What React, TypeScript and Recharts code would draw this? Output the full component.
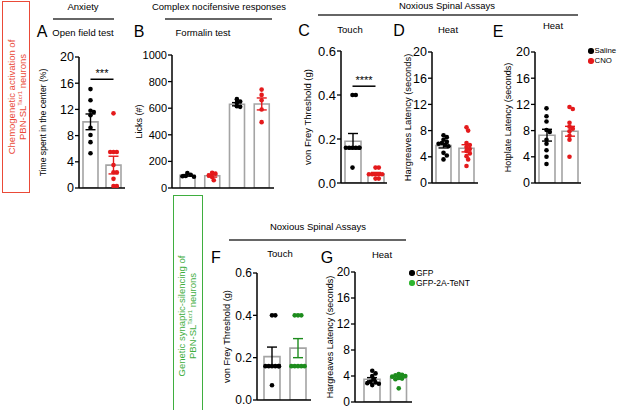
import React from 'react';
import { ComposedChart, Bar, Scatter, XAxis, YAxis, ErrorBar, ReferenceLine } from 'recharts';

// ---------- data ----------
const salineCnoGroups = ['Saline', 'CNO'];
const formalinGroups = ['Saline (phase 1)', 'CNO (phase 1)', 'Saline (phase 2)', 'CNO (phase 2)'];
const gfpGroups = ['GFP', 'GFP-2A-TeNT'];

const anxietySaline = [15.1, 13.4, 11.8, 11.6, 11.1, 9.2, 8.1, 7.0, 5.3];
const anxietyCNO = [11.4, 5.5, 5.5, 5.5, 3.5, 2.4, 2.4, 1.4, 0.3, 0.3];
const anxietyMeans = [10.1, 3.5];
const anxietySem = [1.2, 1.35];

const formalinSaline1 = [112, 100, 90, 85, 88];
const formalinCNO1 = [115, 108, 95, 82, 58];
const formalinSaline2 = [668, 650, 640, 615, 610];
const formalinCNO2 = [740, 700, 660, 590, 495];
const formalinMeans = [95, 92, 630, 632];
const formalinSem = [6, 10, 12, 45];

const touchSaline = [0.4, 0.4, 0.16, 0.16, 0.16, 0.16, 0.16, 0.16, 0.07];
const touchCNO = [0.07, 0.07, 0.04, 0.04, 0.04, 0.04, 0.04, 0.02, 0.02];
const touchMeans = [0.19, 0.042];
const touchSem = [0.035, 0.006];

const hargSaline = [7.3, 7.0, 6.6, 6.3, 6.1, 6.0, 5.8, 5.6, 4.6, 4.2, 3.6];
const hargCNO = [8.5, 8.0, 6.1, 5.8, 5.5, 5.2, 4.9, 4.5, 4.1, 3.6, 2.6];
const hargMeans = [5.7, 5.3];
const hargSem = [0.35, 0.55];

const hotSaline = [11.4, 10.2, 9.4, 8.1, 7.8, 6.6, 6.0, 5.0, 4.0, 2.9];
const hotCNO = [11.6, 11.3, 9.2, 8.6, 8.3, 7.9, 7.2, 6.6, 4.0];
const hotMeans = [7.3, 7.9];
const hotSem = [0.9, 0.75];

const silTouchGFP = [0.4, 0.4, 0.16, 0.16, 0.16, 0.16, 0.16, 0.16, 0.07];
const silTouchTeNT = [0.4, 0.4, 0.4, 0.16, 0.16, 0.16, 0.16, 0.16];
const silTouchMeans = [0.205, 0.245];
const silTouchSem = [0.045, 0.045];

const silHeatGFP = [4.8, 4.4, 4.0, 3.5, 3.1, 3.0, 2.9, 2.8, 2.6];
const silHeatTeNT = [4.3, 4.2, 4.1, 4.0, 3.9, 3.7, 3.6, 3.5, 2.1];
const silHeatMeans = [3.5, 3.7];
const silHeatSem = [0.25, 0.2];

const ticks20 = [0, 4, 8, 12, 16, 20];
const ticks1000 = [0, 200, 400, 600, 800, 1000];
const ticks06 = [0, 0.2, 0.4, 0.6];

// ---------- style ----------
const FONT = '"Liberation Sans", Arial, Helvetica, sans-serif';
const BLACK = '#000000';
const RED = '#e41a1c';
const GREEN = '#1d8c1d';
const BAR_STROKE = '#a4a4a4';
const SIDE_RED = '#ea4a38';
const SIDE_GREEN = '#3fae3f';
const RULE = '#666666';

type Group = { name: string; mean: number; sem: number; color: string; dots: number[] };
type PanelSpec = {
  id: string;
  PL: number; PR: number; PT: number; PB: number; LX: number;
  ymax: number; ticks: number[]; decimals: number; tickSize: number;
  label: string; labelSize: number; padL: number; barSize: number;
  accent: string;
  groups: Group[];
  sig?: { y: number; text: string };
};

const mk = (names: string[], means: number[], sems: number[], colors: string[], dots: number[][]): Group[] =>
  names.map((name, i) => ({ name, mean: means[i], sem: sems[i], color: colors[i], dots: dots[i] }));

const panels: PanelSpec[] = [
  {
    id: 'A', PL: 79, PR: 125, PT: 57, PB: 188, LX: 43, ymax: 20, ticks: ticks20, decimals: 0, tickSize: 12.5,
    label: 'Time spent in the center (%)', labelSize: 8.6, padL: 0, barSize: 15, accent: RED,
    groups: mk(salineCnoGroups, anxietyMeans, anxietySem, [BLACK, RED], [anxietySaline, anxietyCNO]),
    sig: { y: 16.6, text: '***' },
  },
  {
    id: 'B', PL: 172, PR: 274, PT: 55, PB: 188, LX: 139, ymax: 1000, ticks: ticks1000, decimals: 0, tickSize: 11,
    label: 'Licks (#)', labelSize: 9, padL: 3, barSize: 15, accent: RED,
    groups: mk(formalinGroups, formalinMeans, formalinSem, [BLACK, RED, BLACK, RED],
      [formalinSaline1, formalinCNO1, formalinSaline2, formalinCNO2]),
  },
  {
    id: 'C', PL: 341, PR: 387, PT: 51, PB: 183, LX: 308, ymax: 0.6, ticks: ticks06, decimals: 1, tickSize: 13,
    label: 'von Frey Threshold (g)', labelSize: 9.5, padL: 0, barSize: 16, accent: RED,
    groups: mk(salineCnoGroups, touchMeans, touchSem, [BLACK, RED], [touchSaline, touchCNO]),
    sig: { y: 0.44, text: '****' },
  },
  {
    id: 'D', PL: 432, PR: 478, PT: 52, PB: 183, LX: 408, ymax: 20, ticks: ticks20, decimals: 0, tickSize: 12.5,
    label: 'Hargreaves Latency (seconds)', labelSize: 9.4, padL: 0, barSize: 15, accent: RED,
    groups: mk(salineCnoGroups, hargMeans, hargSem, [BLACK, RED], [hargSaline, hargCNO]),
  },
  {
    id: 'E', PL: 535, PR: 581, PT: 52, PB: 183, LX: 508, ymax: 20, ticks: ticks20, decimals: 0, tickSize: 12.5,
    label: 'Hotplate Latency (seconds)', labelSize: 9, padL: 0, barSize: 16, accent: RED,
    groups: mk(salineCnoGroups, hotMeans, hotSem, [BLACK, RED], [hotSaline, hotCNO]),
  },
  {
    id: 'F', PL: 257, PR: 311, PT: 273, PB: 400, LX: 227, ymax: 0.6, ticks: ticks06, decimals: 1, tickSize: 12,
    label: 'von Frey Threshold (g)', labelSize: 9.2, padL: 2, barSize: 16, accent: GREEN,
    groups: mk(gfpGroups, silTouchMeans, silTouchSem, [BLACK, GREEN], [silTouchGFP, silTouchTeNT]),
  },
  {
    id: 'G', PL: 355, PR: 412, PT: 272, PB: 402, LX: 330, ymax: 20, ticks: ticks20, decimals: 0, tickSize: 12,
    label: 'Hargreaves Latency (seconds)', labelSize: 9, padL: 4, barSize: 16, accent: GREEN,
    groups: mk(gfpGroups, silHeatMeans, silHeatSem, [BLACK, GREEN], [silHeatGFP, silHeatTeNT]),
  },
];

// beeswarm-like horizontal spread (px), derived from dot overlap only
function swarmOffsets(values: number[], pxPerUnit: number, d: number, maxHalf: number): number[] {
  const order = values.map((_, i) => i).sort((a, b) => values[b] - values[a]);
  const placed: { x: number; y: number }[] = [];
  const out = new Array(values.length).fill(0);
  for (const i of order) {
    const y = values[i] * pxPerUnit;
    let chosen = 0;
    for (let k = 0; k < 40; k++) {
      const c = k === 0 ? 0 : (k % 2 === 1 ? 1 : -1) * Math.ceil(k / 2) * d * 0.5;
      if (Math.abs(c) > maxHalf) { chosen = Math.sign(c) * maxHalf; break; }
      const ok = placed.every((p) => Math.hypot(p.x - c, p.y - y) >= d);
      if (ok) { chosen = c; break; }
    }
    placed.push({ x: chosen, y });
    out[i] = chosen;
  }
  return out;
}

function Panel({ s }: { s: PanelSpec }) {
  const mt = 8, mr = 4, mb = 8, xh = 1;
  const Lc = s.LX - 10;
  const yw = s.PL - Lc;
  const Tc = s.PT - mt;
  const w = s.PR - Lc + mr;
  const h = s.PB - Tc + xh + mb;
  const n = s.groups.length;
  const band = (s.PR - s.PL - s.padL) / n;
  const pxPerUnit = (s.PB - s.PT) / s.ymax;

  const barData = s.groups.map((g) => ({
    name: g.name,
    mean: g.mean,
    errK: g.color === BLACK ? g.sem : null,
    errC: g.color !== BLACK ? g.sem : null,
  }));

  const scatterSets = s.groups.map((g, i) => {
    const offs = swarmOffsets(g.dots, pxPerUnit, 3.3, 7);
    return { color: g.color, data: g.dots.map((v, j) => ({ x: i + offs[j] / band, y: v })) };
  });

  return (
    <div style={{ position: 'absolute', left: Lc, top: Tc }}>
      <ComposedChart width={w} height={h} data={barData} margin={{ top: mt, right: mr, left: 0, bottom: mb }}>
        <XAxis xAxisId="cat" dataKey="name" type="category" tick={false} tickLine={false}
          axisLine={{ stroke: '#000', strokeWidth: 1.5 }} height={xh} padding={{ left: s.padL, right: 0 }} />
        <XAxis xAxisId="num" dataKey="x" type="number" domain={[-0.5, n - 0.5]} hide allowDataOverflow
          padding={{ left: s.padL, right: 0 }} />
        <YAxis type="number" domain={[0, s.ymax]} ticks={s.ticks} interval={0} allowDataOverflow
          tickFormatter={(v: number) => v.toFixed(s.decimals)} width={yw}
          tick={{ fontSize: s.tickSize, fill: '#000' }} tickSize={4} tickMargin={1}
          tickLine={{ stroke: '#000', strokeWidth: 1.3 }} axisLine={{ stroke: '#000', strokeWidth: 1.5 }}
          label={{ value: s.label, angle: -90, position: 'insideLeft', offset: 10,
            style: { textAnchor: 'middle', fontSize: s.labelSize, fill: '#000' } }} />
        <Bar xAxisId="cat" dataKey="mean" barSize={s.barSize} fill="#ffffff" stroke={BAR_STROKE}
          strokeWidth={1.6} isAnimationActive={false}>
          <ErrorBar dataKey="errK" width={5} stroke={BLACK} strokeWidth={1.4} />
          <ErrorBar dataKey="errC" width={5} stroke={s.accent} strokeWidth={1.4} />
        </Bar>
        {scatterSets.map((set, i) => (
          <Scatter key={i} xAxisId="num" data={set.data} dataKey="y" isAnimationActive={false}
            shape={(p: any) => <circle cx={p.cx} cy={p.cy} r={2.3} fill={set.color} />} />
        ))}
        {s.sig && (
          <ReferenceLine xAxisId="num" segment={[{ x: 0, y: s.sig.y }, { x: 1, y: s.sig.y }]}
            stroke="#000" strokeWidth={1.5} ifOverflow="visible"
            label={{ value: s.sig.text, position: 'top', offset: 2, fontSize: 11, fill: '#000' }} />
        )}
      </ComposedChart>
    </div>
  );
}

const T = ({ x, y, size = 9.5, children, color = '#000', anchor = 'center' }: any) => (
  <div style={{
    position: 'absolute', left: x, top: y, fontSize: size, color, whiteSpace: 'nowrap', lineHeight: 1,
    transform: anchor === 'center' ? 'translate(-50%, -50%)' : 'translate(0, -50%)',
  }}>{children}</div>
);

const Rule = ({ x1, x2, y }: { x1: number; x2: number; y: number }) => (
  <div style={{ position: 'absolute', left: x1, top: y - 1, width: x2 - x1, height: 2, background: RULE }} />
);

const Dot = ({ x, y, color }: { x: number; y: number; color: string }) => (
  <div style={{ position: 'absolute', left: x - 2.7, top: y - 2.7, width: 5.4, height: 5.4, borderRadius: '50%', background: color }} />
);

const SideLabel = ({ x, y, color, line1 }: { x: number; y: number; color: string; line1: string }) => (
  <div style={{
    position: 'absolute', left: x, top: y, fontSize: 9.5, lineHeight: '11px', color, textAlign: 'center',
    whiteSpace: 'nowrap', transform: 'translate(-50%, -50%) rotate(-90deg)',
  }}>
    {line1}<br />PBN-SL<sup style={{ fontSize: 6, verticalAlign: 'super', lineHeight: 0 }}>Tacr1</sup> neurons
  </div>
);

export default function App() {
  return (
    <div style={{ position: 'absolute', left: 0, top: 0, width: 617, height: 410, background: '#fff', overflow: 'hidden', fontFamily: FONT }}>
      {/* side boxes */}
      <div style={{ position: 'absolute', left: 2, top: 1, width: 26, height: 190, border: `1px solid ${SIDE_RED}` }} />
      <SideLabel x={17} y={97} color={SIDE_RED} line1="Chemogenetic activation of" />
      <div style={{ position: 'absolute', left: 173, top: 195, width: 28, height: 220, border: `1px solid ${SIDE_GREEN}` }} />
      <SideLabel x={187} y={316} color={SIDE_GREEN} line1="Genetic synaptic-silencing of" />

      {/* section headings */}
      <T x={83} y={7}>Anxiety</T>
      <Rule x1={53} x2={114} y={19} />
      <T x={219} y={7}>Complex nocifensive responses</T>
      <Rule x1={165} x2={272} y={19} />
      <T x={447} y={5.5}>Noxious Spinal Assays</T>
      <Rule x1={318} x2={578} y={15} />
      <T x={318} y={227}>Noxious Spinal Assays</T>
      <Rule x1={229} x2={406} y={240} />

      {/* panel letters and subtitles */}
      <T x={42} y={32} size={16}>A</T>
      <T x={83} y={33} size={9.5}>Open field test</T>
      <T x={139} y={32} size={16}>B</T>
      <T x={203} y={33} size={9.5}>Formalin test</T>
      <T x={304} y={31} size={16}>C</T>
      <T x={350} y={30} size={9.5}>Touch</T>
      <T x={399} y={31} size={16}>D</T>
      <T x={448} y={30} size={9.5}>Heat</T>
      <T x={498} y={32} size={16}>E</T>
      <T x={553} y={26} size={9.5}>Heat</T>
      <T x={216} y={258} size={16}>F</T>
      <T x={280} y={254} size={9.5}>Touch</T>
      <T x={327} y={258} size={16}>G</T>
      <T x={382} y={255} size={9.5}>Heat</T>

      {/* legends */}
      <Dot x={591} y={51} color={BLACK} />
      <T x={594.5} y={51} size={7.8} anchor="left">Saline</T>
      <Dot x={591} y={61} color={RED} />
      <T x={594.5} y={61} size={7.8} anchor="left">CNO</T>
      <Dot x={412} y={273} color={BLACK} />
      <T x={416} y={273} size={8.5} anchor="left">GFP</T>
      <Dot x={412} y={283} color="#2fb52f" />
      <T x={416} y={283} size={8.5} anchor="left">GFP-2A-TeNT</T>

      {panels.map((s) => <Panel key={s.id} s={s} />)}
    </div>
  );
}
